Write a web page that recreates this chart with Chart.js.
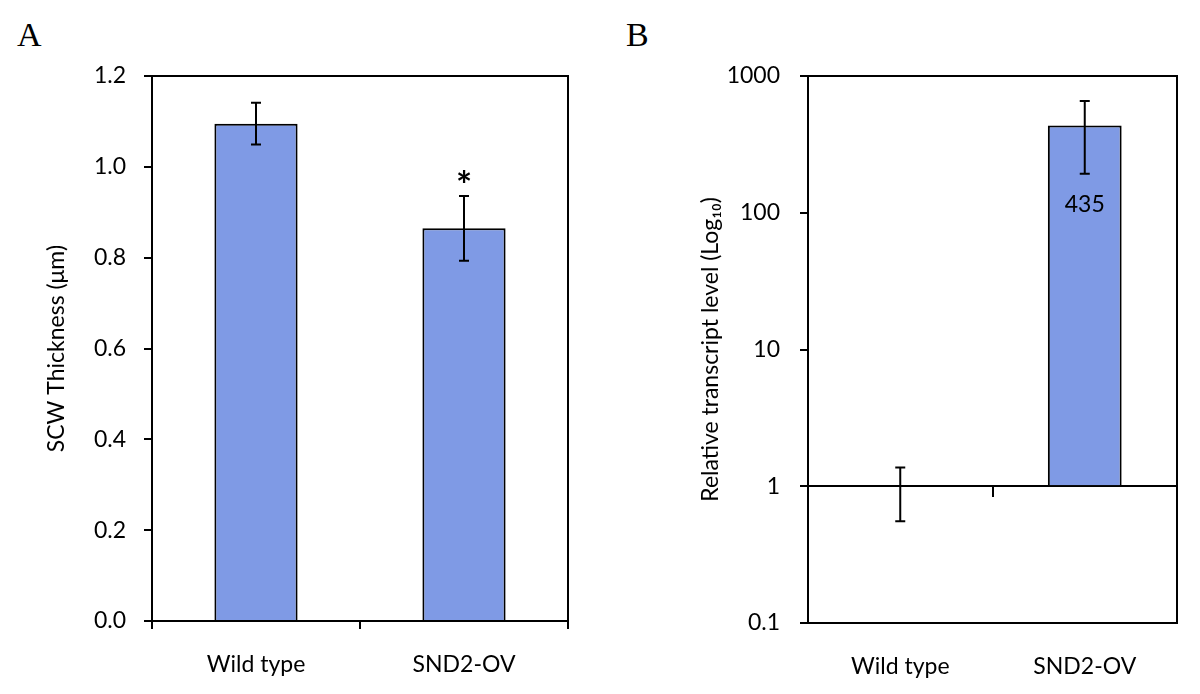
<!DOCTYPE html>
<html>
<head>
<meta charset="utf-8">
<script src="https://cdn.jsdelivr.net/npm/chart.js@4.4.1/dist/chart.umd.min.js"></script>
<style>
body { margin: 0; background: #fff; width: 1200px; height: 694px; position: relative; overflow: hidden; }
.panel { position: absolute; top: 0; width: 600px; height: 694px; }
.tag { position: absolute; font-family: "Liberation Serif", "DejaVu Serif", serif; font-size: 34px; line-height: 1; color: #000; }
</style>
</head>
<body>
<div class="tag" style="left:17px; top:18px">A</div>
<div class="tag" style="left:626px; top:18px">B</div>
<div class="panel" style="left:0"><canvas id="chartA" width="600" height="694"></canvas></div>
<div class="panel" style="left:600px"><canvas id="chartB" width="600" height="694"></canvas></div>
<script>
// categories shared by both panels
var categories = ['Wild type', 'SND2-OV'];

// panel A - secondary cell wall thickness (um)
var thickness = [1.095, 0.865];
var thicknessLow = [1.049, 0.793];
var thicknessHigh = [1.141, 0.936];
var thicknessMarks = ['', '*'];
var thicknessTicks = [0, 0.2, 0.4, 0.6, 0.8, 1.0, 1.2];

// panel B - relative transcript level, log scale, bars start at 1
var transcript = [1, 435];
var transcriptLow = [0.555, 193];
var transcriptHigh = [1.37, 657];
var transcriptLabels = ['', '435'];
var transcriptTicks = [0.1, 1, 10, 100, 1000];

var barColor = '#7f9ae5';

Chart.defaults.font.family = 'Lato, "Open Sans", sans-serif';
Chart.defaults.font.size = 23;
Chart.defaults.color = '#000';

// draws the box round the plot area
var frame = {
    id: 'frame',
    afterDraw: function(chart) {
        var a = chart.chartArea, ctx = chart.ctx;
        ctx.save();
        ctx.strokeStyle = '#000';
        ctx.lineWidth = 2;
        ctx.strokeRect(a.left, a.top, a.right - a.left, a.bottom - a.top);
        ctx.restore();
    }
};

// error bars, plus a text mark above or inside each bar
var errorBars = {
    id: 'errorBars',
    afterDatasetsDraw: function(chart, args, opts) {
        var meta = chart.getDatasetMeta(0);
        var y = chart.scales.y;
        var ctx = chart.ctx;
        ctx.save();
        ctx.strokeStyle = '#000';
        ctx.lineWidth = 2;
        meta.data.forEach(function(bar, i) {
            var top = y.getPixelForValue(opts.high[i]);
            var bot = y.getPixelForValue(opts.low[i]);
            ctx.beginPath();
            ctx.moveTo(bar.x, top); ctx.lineTo(bar.x, bot);
            ctx.moveTo(bar.x - 5, top); ctx.lineTo(bar.x + 5, top);
            ctx.moveTo(bar.x - 5, bot); ctx.lineTo(bar.x + 5, bot);
            ctx.stroke();
            ctx.fillStyle = '#000';
            ctx.textAlign = 'center';
            if (opts.marks && opts.marks[i]) {
                ctx.font = 'bold 38px Lato, sans-serif';
                ctx.textBaseline = 'alphabetic';
                ctx.fillText(opts.marks[i], bar.x, top + 3);
            }
            if (opts.inside && opts.inside[i]) {
                ctx.font = '23px Lato, sans-serif';
                ctx.textBaseline = 'middle';
                ctx.fillText(opts.inside[i], bar.x, bar.y + 79);
            }
        });
        ctx.restore();
    }
};

var axisGrid = { drawOnChartArea: false, color: '#000', lineWidth: 2, tickLength: 8 };
var axisBorder = { color: '#000', width: 2 };

// Panel A
new Chart(document.getElementById('chartA'), {
    type: 'bar',
    data: {
        labels: categories,
        datasets: [{
            data: thickness,
            backgroundColor: barColor,
            borderColor: '#000',
            borderWidth: 2,
            borderSkipped: 'bottom',
            barPercentage: 0.4,
            categoryPercentage: 1
        }]
    },
    options: {
        responsive: false,
        animation: false,
        layout: { padding: { left: 39, top: 76, right: 32, bottom: 13 } },
        plugins: {
            legend: { display: false },
            tooltip: { enabled: false },
            errorBars: { low: thicknessLow, high: thicknessHigh, marks: thicknessMarks }
        },
        scales: {
            x: {
                offset: true,
                grid: Object.assign({ offset: true }, axisGrid),
                border: axisBorder,
                ticks: { padding: 22 },
                afterFit: function(s) { s.height = 60; }
            },
            y: {
                min: 0,
                max: 1.2,
                grid: axisGrid,
                border: axisBorder,
                afterBuildTicks: function(s) { s.ticks = thicknessTicks.map(function(v) { return { value: v }; }); },
                ticks: { padding: 18, callback: function(v) { return v.toFixed(1); } },
                title: { display: true, text: 'SCW Thickness (μm)', font: { size: 23 } },
                afterFit: function(s) { s.width = 113; }
            }
        }
    },
    plugins: [frame, errorBars]
});

// Panel B
new Chart(document.getElementById('chartB'), {
    type: 'bar',
    data: {
        labels: categories,
        datasets: [{
            data: transcript,
            base: 1,
            backgroundColor: barColor,
            borderColor: '#000',
            borderWidth: 2,
            borderSkipped: 'start',
            barPercentage: 0.4,
            categoryPercentage: 1
        }]
    },
    options: {
        responsive: false,
        animation: false,
        layout: { padding: { left: 93, top: 76, right: 23, bottom: 11 } },
        plugins: {
            legend: { display: false },
            tooltip: { enabled: false },
            errorBars: { low: transcriptLow, high: transcriptHigh, inside: transcriptLabels }
        },
        scales: {
            x: {
                offset: true,
                grid: { display: false },
                border: { display: false },
                ticks: { padding: 22 },
                afterFit: function(s) { s.height = 60; }
            },
            x2: {
                type: 'category',
                position: { y: 1 },
                offset: true,
                grid: Object.assign({ offset: true }, axisGrid, { tickLength: 10 }),
                border: axisBorder,
                ticks: { display: false }
            },
            y: {
                type: 'logarithmic',
                min: 0.1,
                max: 1000,
                grid: axisGrid,
                border: axisBorder,
                afterBuildTicks: function(s) { s.ticks = transcriptTicks.map(function(v) { return { value: v }; }); },
                ticks: { padding: 20, callback: function(v) { return String(v); } },
                title: { display: true, text: 'Relative transcript level (Log₁₀)', font: { size: 23 } },
                afterFit: function(s) { s.width = 115; }
            }
        }
    },
    plugins: [frame, errorBars]
});
</script>
</body>
</html>
